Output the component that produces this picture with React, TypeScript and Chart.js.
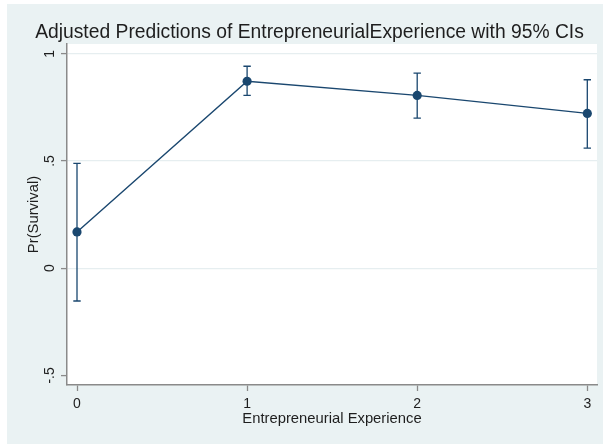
import React, { useEffect, useRef } from "react";
import { Chart, registerables } from "chart.js";

Chart.register(...registerables);

// Adjusted predictions with 95% confidence intervals
const experienceLevels = [0, 1, 2, 3];
const predicted = [0.169, 0.872, 0.806, 0.722];
const ciLower = [-0.153, 0.806, 0.7, 0.56];
const ciUpper = [0.489, 0.942, 0.91, 0.879];

const xTickValues = [0, 1, 2, 3];
const yTickValues = [-0.5, 0, 0.5, 1];
const yTickLabels = ["-.5", "0", ".5", "1"];

const TITLE = "Adjusted Predictions of EntrepreneurialExperience with 95% CIs";
const X_TITLE = "Entrepreneurial Experience";
const Y_TITLE = "Pr(Survival)";

const NAVY = "#1a476f";
const REGION_BG = "#eaf2f3";
const GRID = "#e6eef0";
const AXIS = "#8a8a8a";
const TEXT = "#1e1e1e";
const FONT = "'Liberation Sans', Arial, sans-serif";

const backdrop = {
  id: "backdrop",
  beforeDraw(chart: any) {
    const { ctx, chartArea } = chart;
    ctx.save();
    ctx.fillStyle = "#ffffff";
    ctx.fillRect(0, 0, chart.width, chart.height);
    ctx.fillStyle = REGION_BG;
    ctx.fillRect(7, 4, 596, 440);
    ctx.fillStyle = "#ffffff";
    ctx.fillRect(chartArea.left, chartArea.top, chartArea.right - chartArea.left, chartArea.bottom - chartArea.top);
    ctx.restore();
  },
  afterDraw(chart: any) {
    const { ctx } = chart;
    const y = chart.scales.y;
    ctx.save();
    ctx.fillStyle = TEXT;
    ctx.font = `19.3px ${FONT}`;
    ctx.textAlign = "center";
    ctx.textBaseline = "alphabetic";
    ctx.fillText(TITLE, 309.5, 37.5);

    // vertical y tick labels
    ctx.font = `14px ${FONT}`;
    ctx.textBaseline = "middle";
    yTickValues.forEach((v, i) => {
      const py = y.getPixelForValue(v);
      ctx.save();
      ctx.translate(50, py);
      ctx.rotate(-Math.PI / 2);
      ctx.fillText(yTickLabels[i], 0, 0);
      ctx.restore();
    });
    ctx.restore();
  },
};

const errorBars = {
  id: "errorBars",
  beforeDatasetsDraw(chart: any) {
    const { ctx } = chart;
    const x = chart.scales.x;
    const y = chart.scales.y;
    const cap = 3.7;
    ctx.save();
    ctx.strokeStyle = NAVY;
    ctx.lineWidth = 1.3;
    experienceLevels.forEach((lvl, i) => {
      const px = x.getPixelForValue(lvl);
      const lo = y.getPixelForValue(ciLower[i]);
      const hi = y.getPixelForValue(ciUpper[i]);
      ctx.beginPath();
      ctx.moveTo(px, lo);
      ctx.lineTo(px, hi);
      ctx.moveTo(px - cap, lo);
      ctx.lineTo(px + cap, lo);
      ctx.moveTo(px - cap, hi);
      ctx.lineTo(px + cap, hi);
      ctx.stroke();
    });
    ctx.restore();
  },
};

export default function App() {
  const canvasRef = useRef<HTMLCanvasElement | null>(null);

  useEffect(() => {
    const canvas = canvasRef.current;
    if (!canvas) return;
    const chart = new Chart(canvas, {
      type: "line",
      data: {
        datasets: [
          {
            data: experienceLevels.map((lvl, i) => ({ x: lvl, y: predicted[i] })),
            borderColor: NAVY,
            borderWidth: 1.4,
            pointRadius: 4.6,
            pointBackgroundColor: NAVY,
            pointBorderWidth: 0,
            tension: 0,
          },
        ],
      },
      options: {
        animation: false,
        responsive: false,
        devicePixelRatio: 1,
        layout: { padding: { left: 0, top: 44, right: 8, bottom: 0 } },
        plugins: {
          legend: { display: false },
          tooltip: { enabled: false },
          title: { display: false },
        },
        scales: {
          x: {
            type: "linear",
            min: -0.0588,
            max: 3.057,
            afterBuildTicks: (scale: any) => {
              scale.ticks = xTickValues.map((v) => ({ value: v }));
            },
            afterFit: (scale: any) => {
              scale.height = 59;
            },
            ticks: {
              color: TEXT,
              font: { family: FONT, size: 14 },
              padding: 5,
              maxRotation: 0,
              callback: (v: any) => String(v),
            },
            grid: {
              drawOnChartArea: false,
              drawTicks: true,
              tickLength: 6,
              tickColor: AXIS,
              tickWidth: 1.3,
            },
            border: { display: true, color: AXIS, width: 1.5 },
            title: {
              display: true,
              text: X_TITLE,
              color: TEXT,
              font: { family: FONT, size: 14.8 },
              padding: { top: 0, bottom: 16.5 },
            },
          },
          y: {
            type: "linear",
            min: -0.5448,
            max: 1.0457,
            afterBuildTicks: (scale: any) => {
              scale.ticks = yTickValues.map((v) => ({ value: v }));
            },
            afterFit: (scale: any) => {
              scale.width = 67;
            },
            ticks: { display: false },
            grid: {
              drawOnChartArea: true,
              drawTicks: true,
              tickLength: 6,
              tickColor: AXIS,
              tickWidth: 1.3,
              lineWidth: 1.2,
              color: (c: any) => (c.tick && c.tick.value === -0.5 ? "rgba(0,0,0,0)" : GRID),
            },
            border: { display: true, color: AXIS, width: 1.5 },
            title: {
              display: true,
              text: Y_TITLE,
              color: TEXT,
              font: { family: FONT, size: 14.8 },
              padding: { top: 25, bottom: 0 },
            },
          },
        },
      },
      plugins: [backdrop, errorBars],
    } as any);
    return () => chart.destroy();
  }, []);

  return (
    <div style={{ position: "absolute", left: 0, top: 0, width: 605, height: 444 }}>
      <canvas ref={canvasRef} width={605} height={444} style={{ display: "block" }} />
    </div>
  );
}
